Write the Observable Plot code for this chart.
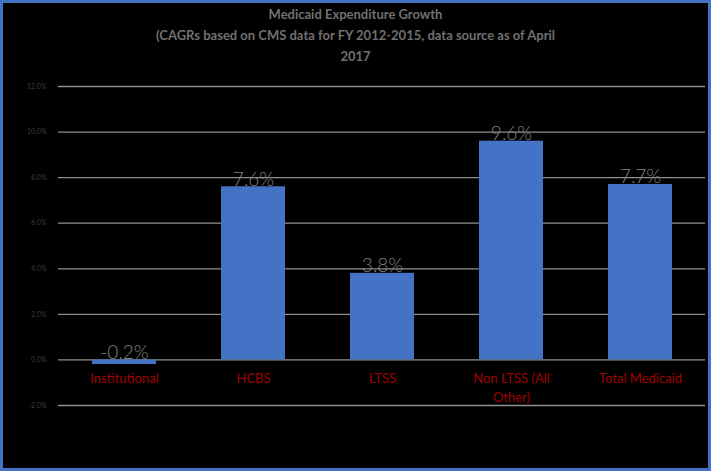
<!DOCTYPE html>
<html>
<head>
<meta charset="utf-8">
<script src="https://cdn.jsdelivr.net/npm/d3@7"></script>
<script src="https://cdn.jsdelivr.net/npm/@observablehq/plot@0.6"></script>
<style>
  html, body { margin: 0; padding: 0; background: #000; }
  #wrap { position: relative; width: 711px; height: 471px; background: #000; overflow: hidden; font-family: Lato, "Open Sans", sans-serif; }
  #border { position: absolute; left: 0; top: 0; width: 711px; height: 471px; box-sizing: border-box; border: 3px solid #4472C4; pointer-events: none; z-index: 2; }
  #title { position: absolute; left: 0; top: 4px; width: 711px; text-align: center; color: #707070; font-weight: bold; font-size: 13px; line-height: 21px; }
  #chart { position: absolute; left: 0; top: 70px; }
</style>
</head>
<body>
<div id="wrap">
  <div id="title">Medicaid Expenditure Growth<br>(CAGRs based on CMS data for FY 2012-2015, data source as of April<br>2017</div>
  <div id="chart"></div>
  <div id="border"></div>
</div>
<script>
const categories = ["Institutional", "HCBS", "LTSS", "Non LTSS (All Other)", "Total Medicaid"];
const values = [-0.2, 7.6, 3.8, 9.6, 7.7];
const yTicks = [-2, 0, 2, 4, 6, 8, 10, 12];

const data = categories.map((c, i) => ({category: c, value: values[i]}));

const chart = Plot.plot({
  width: 711,
  height: 398,
  marginLeft: 58,
  marginRight: 6,
  marginTop: 16,
  marginBottom: 63,
  style: {background: "transparent", fontFamily: "Lato, 'Open Sans', sans-serif"},
  x: {domain: categories, paddingInner: 0.506, paddingOuter: 0.25, axis: null},
  y: {domain: [-2, 12], ticks: yTicks, axis: null},
  marks: [
    Plot.ruleY(yTicks, {stroke: "#8f8f8f", strokeWidth: 1.3}),
    Plot.axisY(yTicks, {tickSize: 0, tickPadding: 12, tickFormat: d => d.toFixed(1) + "%", fill: "#3c3c3c", fontSize: 7, label: null}),
    Plot.barY(data, {x: "category", y: "value", fill: "#4472C4"}),
    Plot.text(data, {
      x: "category", y: d => Math.max(d.value, 0),
      text: d => d.value.toFixed(1) + "%",
      lineAnchor: "bottom", dy: -1, fill: "#808080", fontSize: 19, fontWeight: 300
    }),
    Plot.text(data, {
      x: "category", y: () => 0,
      text: "category", lineWidth: 7.2, lineHeight: 1.45,
      lineAnchor: "top", dy: 10, fill: "#a00000", fontSize: 13
    })
  ]
});
document.getElementById("chart").appendChild(chart);
</script>
</body>
</html>
